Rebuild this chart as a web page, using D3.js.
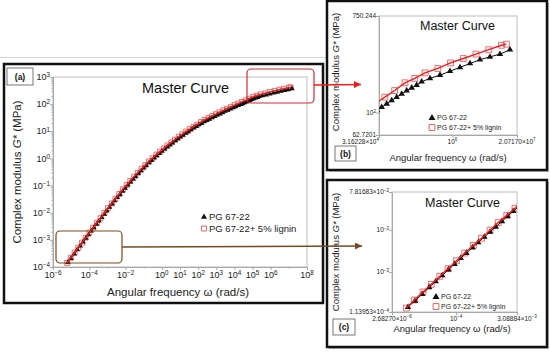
<!DOCTYPE html>
<html>
<head>
<meta charset="utf-8">
<script src="https://cdn.jsdelivr.net/npm/d3@7"></script>
<style>
body { margin: 0; background: #fff; }
svg { display: block; font-family: "Liberation Sans", Arial, sans-serif; }
</style>
</head>
<body>
<div id="chart"></div>
<script>
// master curve, log10 values
var pgLogW = [-5.18, -5.01, -4.83, -4.66, -4.50, -4.34, -4.19, -4.04, -3.89, -3.75, -3.60, -3.46, -3.31, -3.17,
    -3.03, -2.88, -2.74, -2.60, -2.45, -2.31, -2.16, -2.02, -1.87, -1.73, -1.58, -1.44, -1.29, -1.15, -1.00, -0.86,
    -0.71, -0.57, -0.42, -0.28, -0.13, 0.01, 0.16, 0.30, 0.45, 0.59, 0.74, 0.88, 1.03, 1.17, 1.32, 1.46, 1.61, 1.75,
    1.90, 2.04, 2.19, 2.33, 2.48, 2.62, 2.77, 2.91, 3.06, 3.20, 3.35, 3.49, 3.64, 3.78, 3.93, 4.07, 4.22, 4.36, 4.46,
    4.555, 4.657, 4.759, 4.861, 4.963, 5.065, 5.167, 5.269, 5.371, 5.541, 5.745, 5.949, 6.153, 6.357, 6.561, 6.765,
    6.969, 7.173];
var pgLogG = [-3.83, -3.68, -3.52, -3.36, -3.22, -3.08, -2.94, -2.81, -2.67, -2.55, -2.42, -2.30, -2.17, -2.05,
    -1.93, -1.80, -1.68, -1.56, -1.44, -1.33, -1.21, -1.10, -0.98, -0.87, -0.76, -0.66, -0.55, -0.46, -0.35, -0.26,
    -0.16, -0.07, 0.02, 0.10, 0.18, 0.27, 0.35, 0.42, 0.50, 0.575, 0.65, 0.72, 0.79, 0.86, 0.93, 0.99, 1.06, 1.12,
    1.18, 1.24, 1.29, 1.35, 1.40, 1.45, 1.50, 1.55, 1.60, 1.64, 1.69, 1.74, 1.78, 1.82, 1.87, 1.91, 1.95, 1.99, 2.02,
    2.05, 2.08, 2.11, 2.14, 2.17, 2.20, 2.225, 2.25, 2.28, 2.31, 2.34, 2.375, 2.41, 2.445, 2.48, 2.505,
    2.53, 2.57];

var ligLogW = [-5.22, -5.02, -4.81, -4.61, -4.40, -4.20, -3.99, -3.79, -3.58, -3.38, -3.17, -2.97, -2.76, -2.56,
    -2.35, -2.15, -1.94, -1.74, -1.53, -1.33, -1.12, -0.92, -0.71, -0.51, -0.30, -0.10, 0.11, 0.31, 0.52, 0.72,
    0.93, 1.13, 1.34, 1.54, 1.75, 1.95, 2.16, 2.36, 2.57, 2.77, 2.98, 3.18, 3.39, 3.59, 3.80, 4.00, 4.21, 4.41,
    4.62, 4.82, 5.03, 5.23, 5.44, 5.70, 5.96, 6.22, 6.48, 6.74, 7.00, 7.10];
var ligLogG = [-3.85, -3.66, -3.47, -3.29, -3.10, -2.92, -2.73, -2.55, -2.37, -2.20, -2.01, -1.83, -1.66, -1.49,
    -1.31, -1.14, -0.98, -0.83, -0.67, -0.53, -0.38, -0.25, -0.11, 0.01, 0.14, 0.25, 0.37, 0.48, 0.59, 0.69,
    0.80, 0.89, 0.99, 1.08, 1.17, 1.25, 1.34, 1.42, 1.49, 1.56, 1.63, 1.70, 1.77, 1.83, 1.89, 1.96, 2.02, 2.08,
    2.14, 2.20, 2.27, 2.31, 2.36, 2.40, 2.45, 2.49, 2.53, 2.57, 2.61, 2.62];

var seriesNames = ["PG 67-22", "PG 67-22+ 5% lignin"];

// tick labels (exponent only for the main panel)
var xTicksA = [-6, -4, -2, 0, 1, 2, 3, 4, 5, 6, 8];
var yTicksA = [-4, -3, -2, -1, 0, 1, 2, 3];
var xTicksB = [{ v: 3.16228e4, m: "3.16228", e: 4 }, { v: 1e6, e: 6 }, { v: 2.07170e7, m: "2.07170", e: 7 }];
var yTicksB = [{ v: 62.7201, t: "62.7201" }, { v: 100, e: 2 }, { v: 750.244, t: "750.244" }];
var xTicksC = [{ v: 2.68270e-6, m: "2.68270", e: -6 }, { v: 1e-4, e: -4 }, { v: 3.08884e-3, m: "3.08884", e: -3 }];
var yTicksC = [{ v: 1.13953e-4, m: "1.13953", e: -4 }, { v: 1e-3, e: -3 }, { v: 1e-2, e: -2 }, { v: 7.81683e-2, m: "7.81683", e: -2 }];

var w = 550, h = 352;
var RED = "#f01c1c", BROWN = "#7a4a1c";

var svg = d3.select("#chart").append("svg").attr("width", w).attr("height", h);
var defs = svg.append("defs");

svg.append("line").attr("x1", 0).attr("x2", 326).attr("y1", 57.5).attr("y2", 57.5).attr("stroke", "#d4d4d4");

function mkArrow(id, color) {
    defs.append("marker").attr("id", id).attr("viewBox", "0 0 10 10").attr("refX", 10).attr("refY", 5)
        .attr("markerUnits", "userSpaceOnUse").attr("markerWidth", 8).attr("markerHeight", 7).attr("orient", "auto")
        .append("path").attr("d", "M0,0 L10,5 L0,10 z").attr("fill", color);
}
mkArrow("arrRed", RED);
mkArrow("arrBrown", BROWN);

var pgData = pgLogW.map(function (v, i) { return [Math.pow(10, v), Math.pow(10, pgLogG[i])]; });
var ligData = ligLogW.map(function (v, i) { return [Math.pow(10, v), Math.pow(10, ligLogG[i])]; });

function sup(sel, mant, exp) {
    sel.append("tspan").text((mant ? mant + "\u00d7" : "") + "10");
    sel.append("tspan").attr("dy", "-0.45em").attr("font-size", "0.7em").text(String(exp).replace("-", "\u2212"));
}

function mkPanel(p) {
    var L = p.plot[0], T = p.plot[1], R = p.plot[2], B = p.plot[3];
    var g = svg.append("g");

    // panel frame with a soft shadow
    if (p.shadow) g.append("rect").attr("x", p.box[0] + 2).attr("y", p.box[1] + 2).attr("width", p.box[2] - p.box[0])
        .attr("height", p.box[3] - p.box[1]).attr("fill", "#c4c4c4");
    g.append("rect").attr("x", p.box[0]).attr("y", p.box[1]).attr("width", p.box[2] - p.box[0])
        .attr("height", p.box[3] - p.box[1]).attr("fill", "white").attr("stroke", "#111").attr("stroke-width", 2.5);

    var x = d3.scaleLog().domain(p.xDom).range([L, R]);
    var y = d3.scaleLog().domain(p.yDom).range([B, T]);

    g.append("rect").attr("x", L).attr("y", T).attr("width", R - L).attr("height", B - T)
        .attr("fill", "none").attr("stroke", "#bdbdbd");

    // ticks through d3 axes, labels added by hand for the superscripts
    g.append("g").attr("transform", "translate(0," + B + ")")
        .call(d3.axisBottom(x).tickValues(p.xMajor).tickSize(3).tickSizeOuter(0).tickFormat(""));
    g.append("g").attr("transform", "translate(" + L + ",0)")
        .call(d3.axisLeft(y).tickValues(p.yMajor).tickSize(3).tickSizeOuter(0).tickFormat(""));
    if (p.yMinor) g.append("g").attr("transform", "translate(" + L + ",0)")
        .call(d3.axisLeft(y).tickValues(p.yMinor).tickSize(1.5).tickSizeOuter(0).tickFormat(""));
    if (p.xMinor) g.append("g").attr("transform", "translate(0," + B + ")")
        .call(d3.axisBottom(x).tickValues(p.xMinor).tickSize(1.5).tickSizeOuter(0).tickFormat(""));
    g.selectAll(".domain, .tick line").attr("stroke", "#a8a8a8");

    p.xLabels.forEach(function (t, i) {
        var tx = g.append("text").attr("x", x(t.v)).attr("y", B + p.tickFont + 2).attr("font-size", p.tickFont)
            .attr("fill", "#222").attr("text-anchor", (i == 0 && p.firstXAnchor) ? p.firstXAnchor : "middle");
        if (t.t) tx.text(t.t); else sup(tx, t.m, t.e);
    });
    p.yLabels.forEach(function (t) {
        var ty = g.append("text").attr("x", L - 3).attr("y", y(t.v) + p.tickFont * 0.35).attr("font-size", p.tickFont)
            .attr("fill", "#222").attr("text-anchor", "end");
        if (t.t) ty.text(t.t); else sup(ty, t.m, t.e);
    });

    // axis titles
    g.append("text").attr("x", p.xTitle[0]).attr("y", p.xTitle[1]).attr("text-anchor", "middle")
        .attr("font-size", p.titleFont).attr("fill", "#222").text("Angular frequency  \u03c9  (rad/s)");
    var yt = g.append("text").attr("transform", "translate(" + p.yTitle[0] + "," + p.yTitle[1] + ") rotate(-90)")
        .attr("text-anchor", "middle").attr("font-size", p.titleFont).attr("fill", "#222");
    yt.append("tspan").text("Complex modulus  ");
    yt.append("tspan").attr("font-style", "italic").text("G*");
    yt.append("tspan").text("  (MPa)");

    g.append("text").attr("x", p.mc[0]).attr("y", p.mc[1]).attr("font-size", p.mcFont).attr("fill", "#111").text("Master Curve");

    // data, clipped to the plot area
    defs.append("clipPath").attr("id", "clip" + p.name).append("rect")
        .attr("x", L).attr("y", T).attr("width", R - L).attr("height", B - T);
    var d = g.append("g").attr("clip-path", "url(#clip" + p.name + ")");
    var line = d3.line().x(function (v) { return x(v[0]); }).y(function (v) { return y(v[1]); });

    d.selectAll(".sq").data(ligData).enter().append("path")
        .attr("transform", function (v) { return "translate(" + x(v[0]) + "," + y(v[1]) + ")"; })
        .attr("d", d3.symbol().type(d3.symbolSquare).size(p.sqSize)).attr("fill", "none")
        .attr("stroke", "#f25a5a").attr("stroke-width", 0.9);
    d.append("path").datum(pgData).attr("d", line).attr("fill", "none").attr("stroke", "#111").attr("stroke-width", 1);
    d.selectAll(".tri").data(pgData).enter().append("path")
        .attr("transform", function (v) { return "translate(" + x(v[0]) + "," + y(v[1]) + ")"; })
        .attr("d", d3.symbol().type(d3.symbolTriangle).size(p.triSize)).attr("fill", "#111");
    d.append("path").datum(ligData).attr("d", line).attr("fill", "none").attr("stroke", RED).attr("stroke-width", 1.4);

    // legend
    var lg = g.append("g").attr("font-size", p.legFont).attr("fill", "#222");
    lg.append("path").attr("transform", "translate(" + p.leg[0] + "," + p.leg[1] + ")")
        .attr("d", d3.symbol().type(d3.symbolTriangle).size(p.triSize * 1.2)).attr("fill", "#111");
    lg.append("text").attr("x", p.leg[0] + 5).attr("y", p.leg[1] + p.legFont * 0.35).text(seriesNames[0]);
    lg.append("path").attr("transform", "translate(" + p.leg[0] + "," + (p.leg[1] + p.legGap) + ")")
        .attr("d", d3.symbol().type(d3.symbolSquare).size(p.sqSize)).attr("fill", "none")
        .attr("stroke", "#e05050").attr("stroke-width", 0.9);
    lg.append("text").attr("x", p.leg[0] + 5).attr("y", p.leg[1] + p.legGap + p.legFont * 0.35).text(seriesNames[1]);

    // panel tag
    g.append("rect").attr("x", p.tag[0]).attr("y", p.tag[1]).attr("width", p.tag[2]).attr("height", p.tag[3])
        .attr("fill", "white").attr("stroke", "#555").attr("stroke-width", 0.8);
    g.append("text").attr("x", p.tag[0] + p.tag[2] / 2).attr("y", p.tag[1] + p.tag[3] / 2 + 3)
        .attr("text-anchor", "middle").attr("font-size", 8.5).attr("font-weight", "bold").attr("fill", "#111").text(p.label);

    return { x: x, y: y };
}

var minorY = [];
yTicksA.forEach(function (e) { if (e < 3) for (var k = 2; k < 10; k++) minorY.push(k * Math.pow(10, e)); });
var minorX = [-5, -3, -1, 7].map(function (e) { return Math.pow(10, e); });

mkPanel({
    name: "a", label: "(a)", box: [4, 64, 323, 303], plot: [53, 77, 307, 267],
    xDom: [1e-6, 1e8], yDom: [1e-4, 1e3],
    xMajor: xTicksA.map(function (e) { return Math.pow(10, e); }), yMajor: yTicksA.map(function (e) { return Math.pow(10, e); }),
    xMinor: minorX, yMinor: minorY,
    xLabels: xTicksA.map(function (e) { return { v: Math.pow(10, e), e: e }; }),
    yLabels: yTicksA.map(function (e) { return { v: Math.pow(10, e), e: e }; }),
    tickFont: 9, titleFont: 11.5, xTitle: [178, 296], yTitle: [21, 172],
    mc: [142, 93], mcFont: 14.5, triSize: 13, sqSize: 24,
    leg: [204, 217], legGap: 11.5, legFont: 9.5, tag: [7, 68, 26, 17]
});

mkPanel({
    name: "b", label: "(b)", shadow: true, box: [327, 1, 547, 170], plot: [379, 16, 517, 135],
    xDom: [3.16228e4, 2.07170e7], yDom: [62.7201, 750.244],
    xMajor: xTicksB.map(function (t) { return t.v; }), yMajor: yTicksB.map(function (t) { return t.v; }),
    xLabels: xTicksB, yLabels: yTicksB, firstXAnchor: "end",
    tickFont: 6.5, titleFont: 9.5, xTitle: [448, 161], yTitle: [339, 72],
    mc: [420, 30], mcFont: 12.5, triSize: 18, sqSize: 34,
    leg: [432, 118], legGap: 9.5, legFont: 7, tag: [335, 146, 21, 15]
});

mkPanel({
    name: "c", label: "(c)", shadow: true, box: [327, 180, 547, 347], plot: [392, 192, 517, 312],
    xDom: [2.68270e-6, 3.08884e-3], yDom: [1.13953e-4, 7.81683e-2],
    xMajor: xTicksC.map(function (t) { return t.v; }), yMajor: yTicksC.map(function (t) { return t.v; }),
    xLabels: xTicksC, yLabels: yTicksC,
    tickFont: 6.5, titleFont: 9.5, xTitle: [452, 332], yTitle: [339, 252],
    mc: [425, 207], mcFont: 12.5, triSize: 18, sqSize: 34,
    leg: [436, 297], legGap: 9.5, legFont: 7, tag: [333, 319, 22, 16]
});

// zoom boxes in (a) and the arrows to the insets
svg.append("rect").attr("x", 247).attr("y", 69).attr("width", 67).attr("height", 34).attr("rx", 4)
    .attr("fill", "none").attr("stroke", "#d42a30").attr("stroke-width", 1.2);
svg.append("line").attr("x1", 314).attr("y1", 85).attr("x2", 361).attr("y2", 84.5)
    .attr("stroke", RED).attr("stroke-width", 1.5).attr("marker-end", "url(#arrRed)");
svg.append("rect").attr("x", 56).attr("y", 231).attr("width", 66).attr("height", 32).attr("rx", 4)
    .attr("fill", "none").attr("stroke", BROWN).attr("stroke-width", 1.2);
svg.append("line").attr("x1", 122).attr("y1", 247).attr("x2", 362).attr("y2", 246)
    .attr("stroke", BROWN).attr("stroke-width", 1.5).attr("marker-end", "url(#arrBrown)");
</script>
</body>
</html>
